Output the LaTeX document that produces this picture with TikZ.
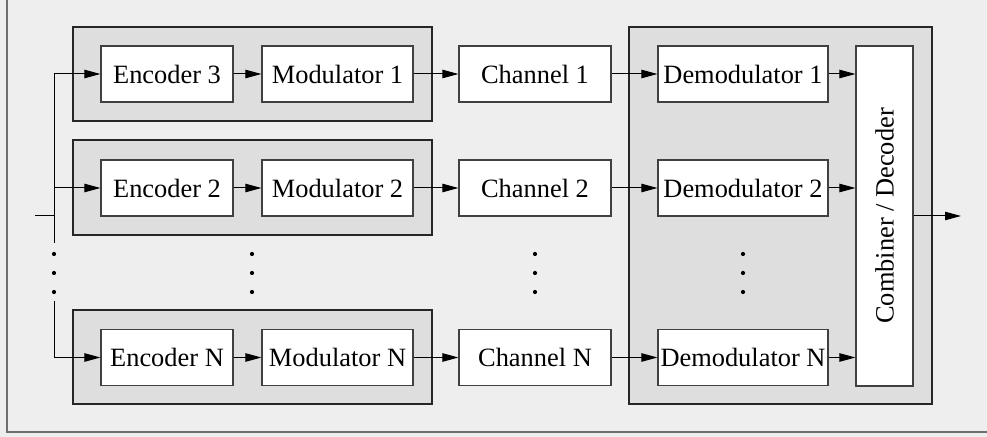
\documentclass[tikz,border=0pt]{standalone}
\usepackage{fontspec}
\setmainfont{Liberation Serif}
\usetikzlibrary{arrows.meta}
\definecolor{pagebg}{HTML}{EEEEEE}
\definecolor{groupbg}{HTML}{DEDEDE}
\definecolor{framegray}{HTML}{6E6E6E}
\begin{document}
\begin{tikzpicture}[x=0.5pt,y=-0.5pt,
  blk/.style={draw=black!75, fill=white, line width=0.55pt, minimum height=28pt,
    inner sep=0pt, font=\fontsize{13.2}{15}\selectfont},
  grp/.style={draw=black!85, fill=groupbg, line width=0.6pt},
  sig/.style={line width=0.5pt, -{Triangle[length=8pt,width=4.2pt]}},
  wire/.style={line width=0.5pt},
  vdot/.style={circle, fill=black, inner sep=0pt, minimum size=2.1pt}]

  % page background and frame
  \fill[pagebg] (0,0) rectangle (987,437);
  \useasboundingbox (0,0) rectangle (987,437);
  \draw[framegray, line width=1pt] (7,0) -- (7,432) -- (987,432);

  % transmitter groups and receiver group
  \draw[grp] (73,27) rectangle (432,121);
  \draw[grp] (73,140) rectangle (432,235);
  \draw[grp] (73,310) rectangle (432,404);
  \draw[grp] (629,27) rectangle (932,404);

  % row 1
  \node[blk, minimum width=66pt]   (e1) at (167,74)    {Encoder 3};
  \node[blk, minimum width=75.5pt] (m1) at (337.5,74)  {Modulator 1};
  \node[blk, minimum width=76pt]   (c1) at (535,74)    {Channel 1};
  \node[blk, minimum width=85pt]   (d1) at (743,74)    {Demodulator 1};
  % row 2
  \node[blk, minimum width=66pt]   (e2) at (167,188)   {Encoder 2};
  \node[blk, minimum width=75.5pt] (m2) at (337.5,188) {Modulator 2};
  \node[blk, minimum width=76pt]   (c2) at (535,188)   {Channel 2};
  \node[blk, minimum width=85pt]   (d2) at (743,188)   {Demodulator 2};
  % row N
  \node[blk, minimum width=66pt]   (eN) at (167,357.5)   {Encoder N};
  \node[blk, minimum width=75.5pt] (mN) at (337.5,357.5) {Modulator N};
  \node[blk, minimum width=76pt]   (cN) at (535,357.5)   {Channel N};
  \node[blk, minimum width=85pt]   (dN) at (743,357.5)   {Demodulator N};

  % combiner (rotated)
  \node[blk, rotate=90, minimum width=170pt, minimum height=28.5pt]
    (cmb) at (884.5,216) {Combiner / Decoder};

  % input bus
  \coordinate (in)  at (35,216);
  \coordinate (bj)  at (54,216);
  \coordinate (b1)  at (54,74);
  \coordinate (b2)  at (54,188);
  \coordinate (bN)  at (54,357.5);
  \coordinate (bgapT) at (54,243);
  \coordinate (bgapB) at (54,301);
  \coordinate (out) at (961,216);

  \draw[wire] (in) -- (bj);
  \draw[wire] (b1) -- (bgapT);
  \draw[wire] (bgapB) -- (bN);

  \draw[sig] (b1) -- (e1.west);
  \draw[sig] (b2) -- (e2.west);
  \draw[sig] (bN) -- (eN.west);

  \foreach \r in {1,2,N}{
    \draw[sig] (e\r.east) -- (m\r.west);
    \draw[sig] (m\r.east) -- (c\r.west);
    \draw[sig] (c\r.east) -- (d\r.west);
    \draw[sig] (d\r.east) -- (d\r.east -| cmb.north);
  }
  \draw[sig] (cmb.south) -- (out);

  % vertical ellipses
  \foreach \x in {54,252,535,743}{
    \foreach \y in {254,273,292}{
      \node[vdot] at (\x,\y) {};
    }
  }
\end{tikzpicture}
\end{document}
